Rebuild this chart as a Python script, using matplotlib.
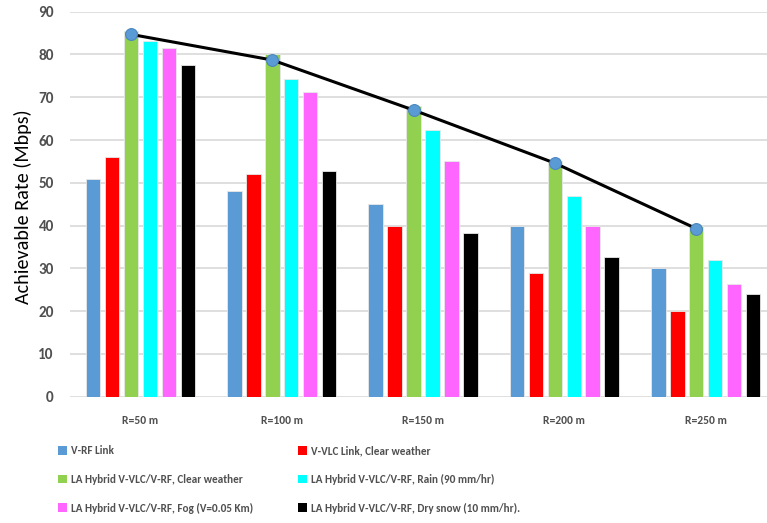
import matplotlib
matplotlib.use("Agg")
import matplotlib.pyplot as plt
from matplotlib.patches import Patch
import numpy as np

categories = ["R=50 m", "R=100 m", "R=150 m", "R=200 m", "R=250 m"]
series_names = [
    "V-RF Link",
    "V-VLC Link, Clear weather",
    "LA Hybrid V-VLC/V-RF, Clear weather",
    "LA Hybrid V-VLC/V-RF, Rain (90 mm/hr)",
    "LA Hybrid V-VLC/V-RF, Fog (V=0.05 Km)",
    "LA Hybrid V-VLC/V-RF, Dry snow (10 mm/hr).",
]
v_rf = [51, 48, 45, 40, 30]
v_vlc_clear = [56, 52, 40, 29, 20]
hybrid_clear = [85.5, 80, 68, 55, 40]
hybrid_rain = [83.1, 74.3, 62.4, 47, 31.9]
hybrid_fog = [81.6, 71.2, 55.1, 40, 26.3]
hybrid_snow = [77.5, 52.8, 38.3, 32.7, 23.9]
trend = [84.7, 78.7, 67.0, 54.6, 39.3]

series = [v_rf, v_vlc_clear, hybrid_clear, hybrid_rain, hybrid_fog, hybrid_snow]
colors = ["#5B9BD5", "#FF0000", "#92D050", "#00FFFF", "#FF66FF", "#000000"]

plt.rcParams["font.family"] = ["Carlito", "DejaVu Sans"]

W, H = 767, 523
fig = plt.figure(figsize=(W / 100, H / 100), dpi=100)
left, right = 69.8, 776.3
top, bottom = 11.7, 396.7
ax = fig.add_axes([left / W, 1 - bottom / H, (right - left) / W, (bottom - top) / H])

x = np.arange(len(categories))
step = 0.134
width = 0.103
for i, (vals, c) in enumerate(zip(series, colors)):
    ax.bar(x + (i - 2.5) * step, vals, width=width, color=c,
           edgecolor="#E8E8E8", linewidth=0.6, zorder=3)

green_x = x + (2 - 2.5) * step
ax.plot(green_x, trend, color="black", linewidth=2.2, zorder=4)
ax.plot(green_x, trend, linestyle="none", marker="o", markersize=8.5,
        markerfacecolor="#5B9BD5", markeredgecolor="#4A86C0",
        markeredgewidth=0.8, zorder=5)

ax.set_xlim(-0.5, len(categories) - 0.5)
ax.set_ylim(0, 90)
ax.set_yticks(np.arange(0, 91, 10))
ax.yaxis.grid(True, color="#D9D9D9", linewidth=1.2, zorder=0)
ax.set_axisbelow(True)
for s in ax.spines.values():
    s.set_visible(False)
ax.tick_params(axis="both", length=0)
ax.tick_params(axis="y", pad=11.5)
ax.tick_params(axis="x", pad=13.5)
ax.set_xticks(x)
ax.set_xticklabels(categories)
for lab in ax.get_xticklabels():
    lab.set_fontsize(8.3)
    lab.set_fontweight("bold")
    lab.set_color("#505050")
for lab in ax.get_yticklabels():
    lab.set_fontsize(11)
    lab.set_fontweight("bold")
    lab.set_color("#505050")

fig.text(23 / W, 1 - 207 / H, "Achievable Rate (Mbps)", rotation=90,
         ha="center", va="center", fontsize=14.5, color="black")

handles = [Patch(facecolor=c, edgecolor="none") for c in colors]
cols = [[0, 2, 4], [1, 3, 5]]
anchors = [58 / W, 298 / W]
for col, ax0 in zip(cols, anchors):
    leg = fig.legend([handles[k] for k in col], [series_names[k] for k in col],
                     loc="upper left", bbox_to_anchor=(ax0, 1 - 445 / H),
                     frameon=False, handlelength=0.85, handleheight=0.85,
                     handletextpad=0.3, labelspacing=1.6, borderaxespad=0,
                     borderpad=0, prop={"size": 8, "weight": "bold"})
    for t in leg.get_texts():
        t.set_color("#505050")

fig.savefig("out.png", dpi=100)
